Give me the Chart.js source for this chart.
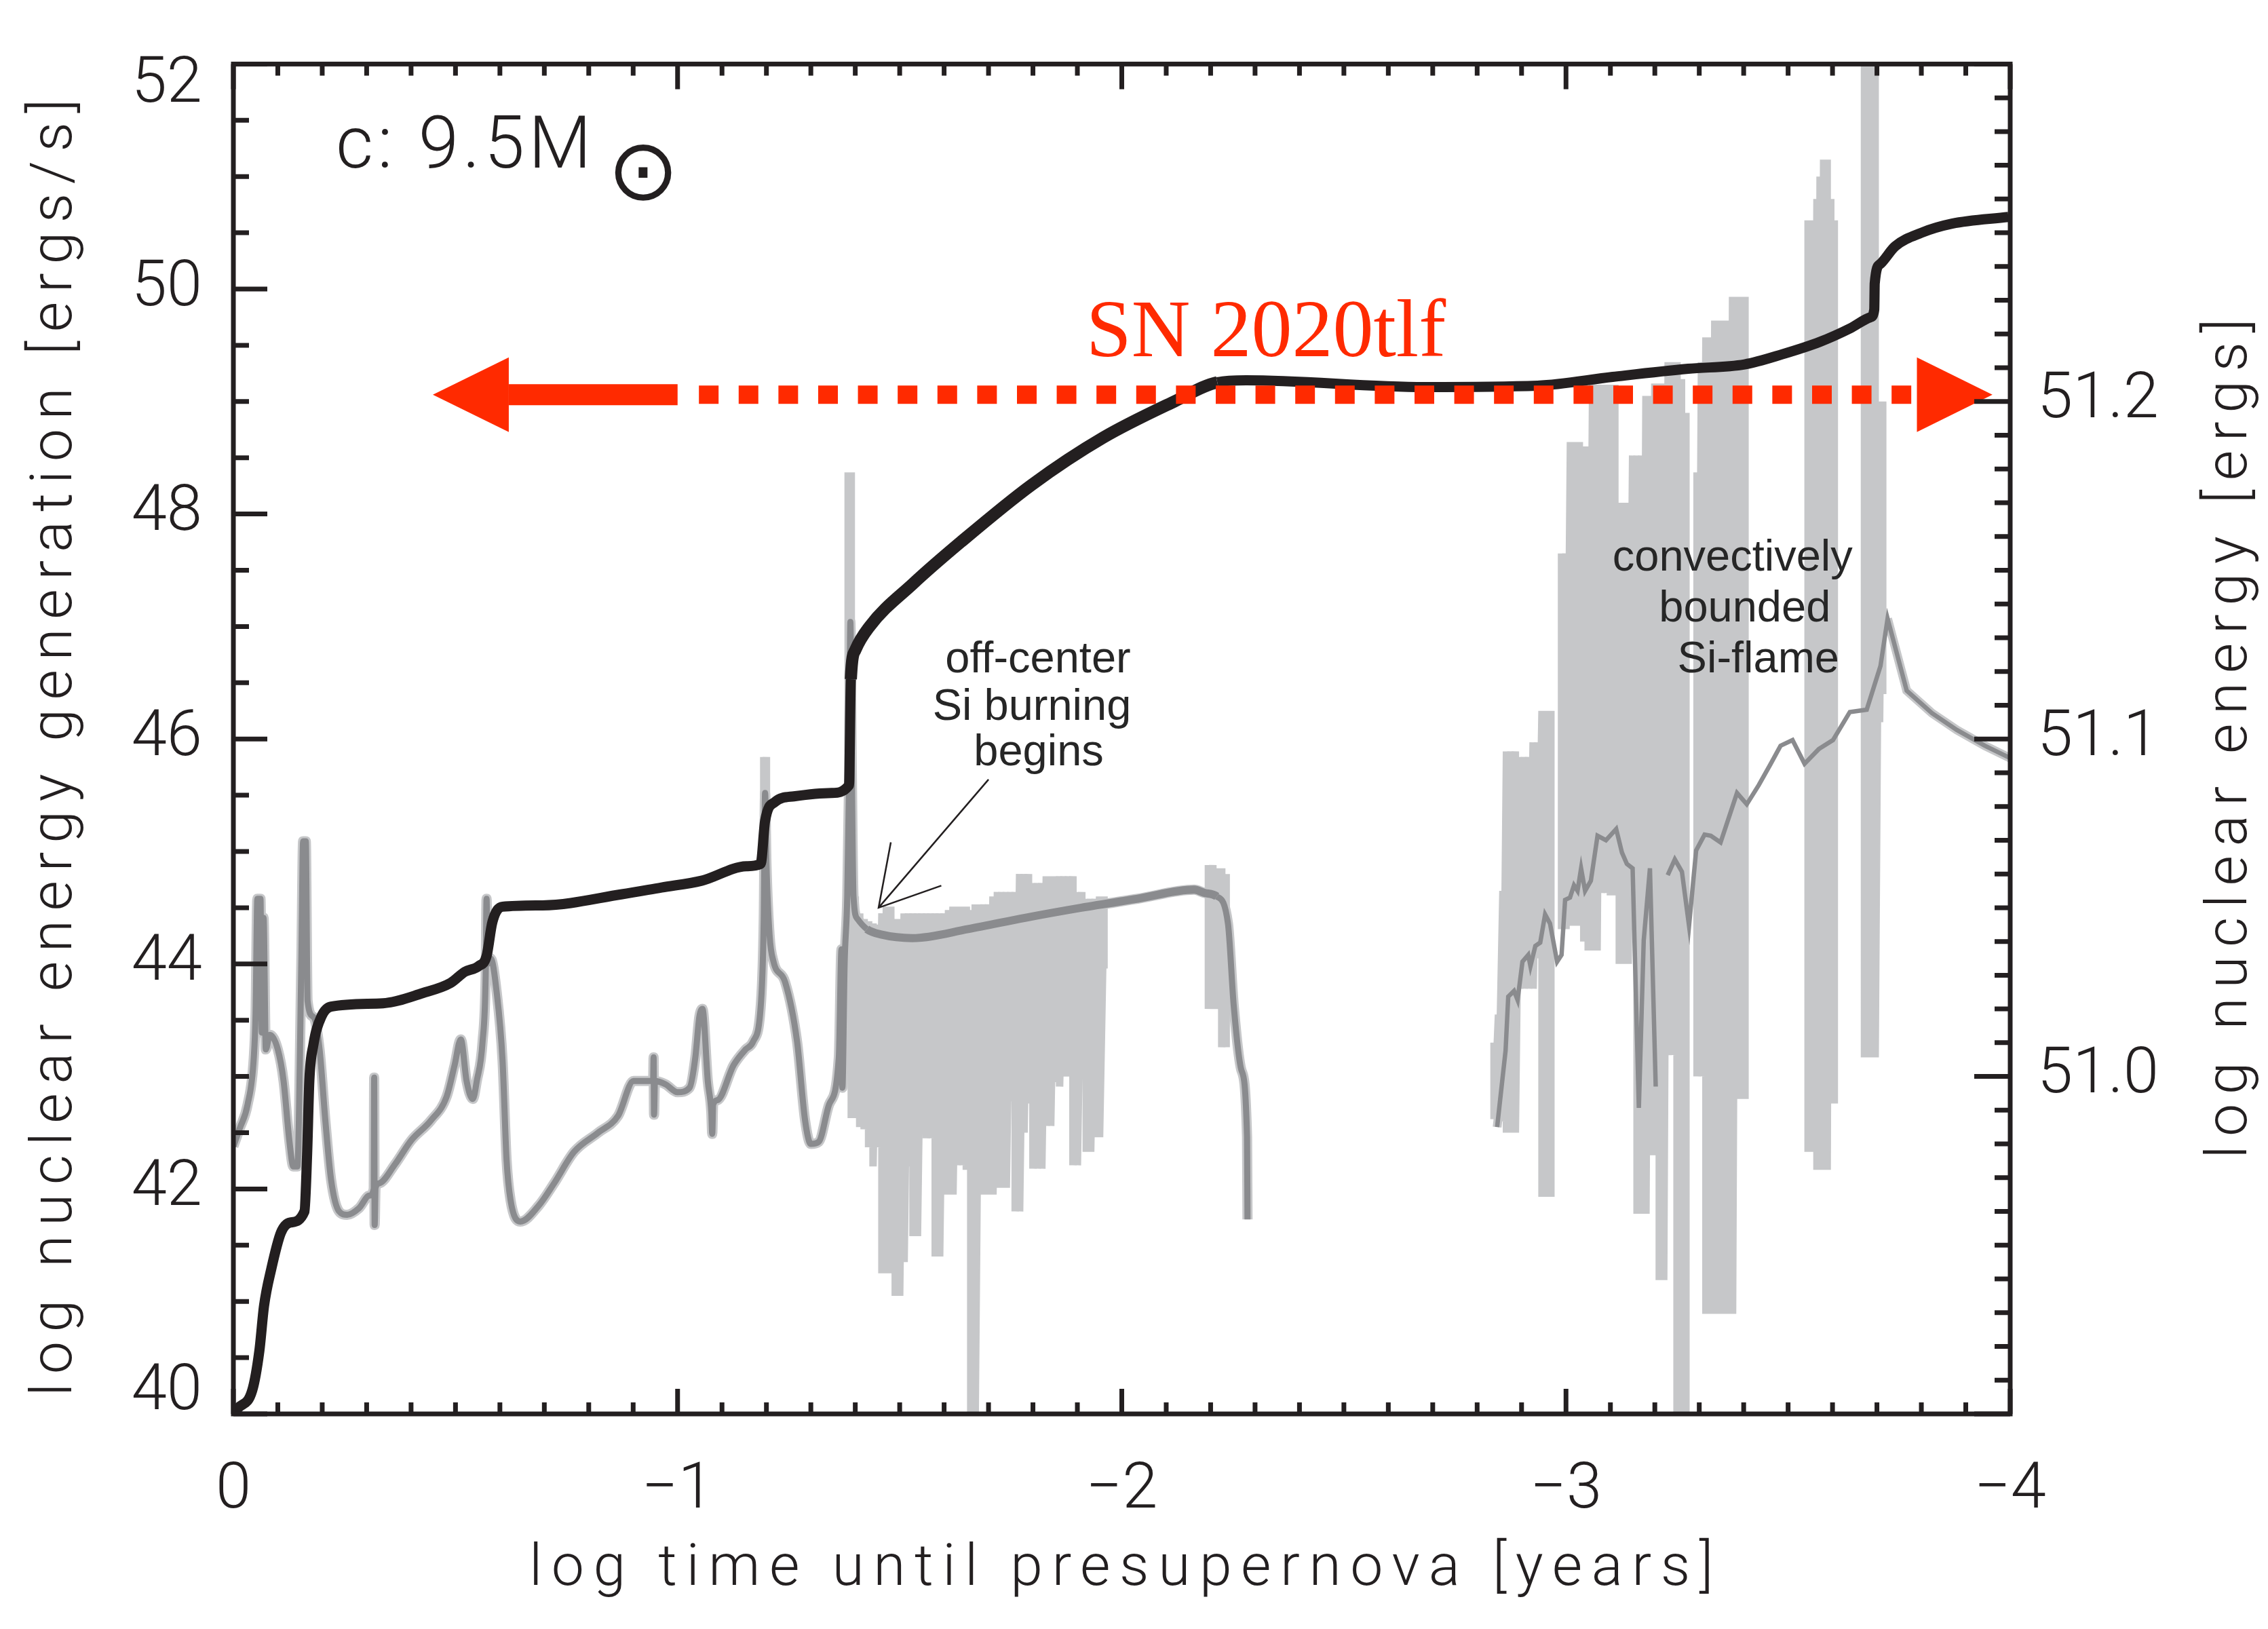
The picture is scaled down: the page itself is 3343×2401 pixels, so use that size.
<!DOCTYPE html>
<html>
<head>
<meta charset="utf-8">
<script src="https://cdn.jsdelivr.net/npm/chart.js@4.4.1/dist/chart.umd.min.js"></script>
<style>
  html, body { margin: 0; padding: 0; background: #ffffff; }
  #stage { width: 3343px; height: 2401px; }
</style>
</head>
<body>
<div id="stage"><canvas id="plot" width="3343" height="2401"></canvas></div>
<script>
// ---- data: 9.5 Msun model, log time until presupernova [yr] ----

// cumulative nuclear energy, log [ergs] (right axis)
const energyTime = [0, -0.0104, -0.0425, -0.0585, -0.069, -0.0854, -0.107, -0.128, -0.16, -0.166,
  -0.171, -0.18, -0.198, -0.22, -0.337, -0.426, -0.489, -0.521, -0.552, -0.57,
  -0.583, -0.606, -0.696, -0.875, -0.964, -1.054, -1.155, -1.187, -1.197, -1.219,
  -1.262, -1.347, -1.386, -1.39, -1.40, -1.432, -1.53, -1.637, -1.797, -1.958,
  -2.118, -2.215, -2.28, -2.682, -2.936, -3.105, -3.275, -3.402, -3.487, -3.572,
  -3.64, -3.686, -3.694, -3.695, -3.707, -3.741, -3.80, -3.869, -3.996];
const energyLog = [50.9, 50.9017, 50.907, 50.9187, 50.932, 50.943, 50.9537, 50.9567, 50.96, 50.977,
  50.9987, 51.0093, 51.0177, 51.0207, 51.0217, 51.0247, 51.0277, 51.031, 51.0327, 51.0357,
  51.0457, 51.0503, 51.0507, 51.054, 51.056, 51.058, 51.0623, 51.063, 51.0757, 51.0813,
  51.083, 51.084, 51.0863, 51.1177, 51.1263, 51.1333, 51.146, 51.1583, 51.1753, 51.1893,
  51.2, 51.2057, 51.2063, 51.2043, 51.2047, 51.2073, 51.2097, 51.211, 51.214, 51.2177,
  51.2217, 51.225, 51.2273, 51.235, 51.2407, 51.246, 51.25, 51.2527, 51.2547];

// smoothed nuclear energy generation rate, log [ergs/s] (left axis), core phases up to Si ignition
const genTime = [0, -0.0145, -0.032, -0.046, -0.05, -0.054, -0.061, -0.064, -0.068, -0.073,
  -0.082, -0.1, -0.113, -0.126, -0.135, -0.144, -0.153, -0.157, -0.163, -0.167,
  -0.18, -0.194, -0.207, -0.22, -0.238, -0.256, -0.283, -0.306, -0.316, -0.317,
  -0.318, -0.32, -0.328, -0.364, -0.4, -0.445, -0.48, -0.498, -0.512, -0.525,
  -0.539, -0.548, -0.561, -0.568, -0.57, -0.572, -0.579, -0.593, -0.606, -0.615,
  -0.624, -0.646, -0.687, -0.722, -0.767, -0.821, -0.866, -0.901, -0.929, -0.945,
  -0.946, -0.947, -0.949, -0.973, -1.0, -1.027, -1.04, -1.049, -1.056, -1.068,
  -1.076, -1.078, -1.08, -1.09, -1.126, -1.153, -1.17, -1.188, -1.194, -1.197,
  -1.2, -1.207, -1.216, -1.242, -1.269, -1.287, -1.3, -1.318, -1.341, -1.363,
  -1.369, -1.371, -1.376, -1.382, -1.386, -1.389, -1.392, -1.396, -1.405, -1.426,
  -1.46, -1.528, -1.654, -1.782, -1.909, -2.036, -2.163, -2.188, -2.214, -2.239,
  -2.252, -2.269, -2.282, -2.283];
const genLog = [42.38, 42.54, 42.75, 43.17, 43.56, 44.58, 44.58, 43.39, 44.41, 43.24,
  43.37, 43.24, 42.96, 42.43, 42.2, 42.2, 44.02, 45.09, 45.09, 43.67,
  43.53, 43.24, 42.61, 42.08, 41.8, 41.77, 41.83, 41.94, 42.0, 42.99,
  41.68, 42.01, 42.05, 42.22, 42.43, 42.61, 42.82, 43.1, 43.33, 42.96,
  42.8, 42.96, 43.31, 43.9, 44.58, 44.0, 44.05, 43.74, 43.14, 42.26,
  41.9, 41.71, 41.85, 42.05, 42.33, 42.5, 42.65, 42.96, 42.96, 42.96,
  43.17, 42.66, 42.96, 42.93, 42.86, 42.9, 43.17, 43.53, 43.6, 42.96,
  42.68, 42.49, 42.75, 42.79, 43.1, 43.24, 43.31, 43.67, 44.4, 45.52,
  44.9, 44.26, 44.02, 43.84, 43.31, 42.61, 42.4, 42.42, 42.75, 43.17,
  44.13, 42.9, 44.0, 44.6, 45.6, 47.04, 45.8, 44.6, 44.4, 44.31,
  44.26, 44.23, 44.31, 44.41, 44.5, 44.58, 44.66, 44.63, 44.6, 44.36,
  43.63, 43.06, 42.46, 41.73];

// smoothed rate during the Si-flame phase; null = no model output
const flameTime = [-2.845, -2.864, -2.87, -2.883, -2.891, -2.902, -2.915, -2.92, -2.931, -2.942,
  -2.953, -2.964, -2.98, -2.99, -2.998, -3.009, -3.018, -3.026, -3.034, -3.043,
  -3.056, -3.071, -3.09, -3.113, -3.126, -3.137, -3.15, -3.164, -3.175, -3.189,
  -3.202, -3.215,
  -3.229, -3.245, -3.261, -3.277, -3.293, -3.312, -3.326, -3.348, -3.385, -3.407,
  -3.434, -3.461, -3.483, -3.51, -3.537, -3.569, -3.601, -3.639, -3.677, -3.708,
  -3.724, -3.767, -3.824, -3.88, -3.943, -4.0];
const flameLog = [42.55, 43.23, 43.71, 43.76, 43.68, 44.02, 44.08, 43.98, 44.16, 44.19,
  44.44, 44.36, 44.02, 44.08, 44.57, 44.59, 44.7, 44.65, 44.85, 44.65,
  44.74, 45.14, 45.1, 45.2, 44.99, 44.89, 44.85, 42.72, 44.21, 44.85,
  42.91, null,
  44.79, 44.93, 44.82, 44.34, 45.01, 45.15, 45.14, 45.08, 45.52, 45.42,
  45.59, 45.78, 45.94, 45.99, 45.78, 45.91, 45.99, 46.24, 46.26, 46.65,
  47.07, 46.43, 46.23, 46.08, 45.94, 45.83];

// unsmoothed rate where it flickers: each entry spans rawHigh..rawLow at rawTime; null separates bursts
const rawTime = [-1.194, -1.200, null,
  -1.384, -1.391,
  -1.40, -1.41, -1.42, -1.43, -1.44, -1.45, -1.46, -1.47, -1.48, -1.49,
  -1.50, -1.51, -1.52, -1.53, -1.54, -1.55, -1.56, -1.57, -1.58, -1.59,
  -1.60, -1.61, -1.62, -1.63, -1.64, -1.65, -1.66, -1.67, -1.68, -1.69,
  -1.70, -1.71, -1.72, -1.73, -1.74, -1.75, -1.76, -1.77, -1.78, -1.79,
  -1.80, -1.81, -1.82, -1.83, -1.84, -1.85, -1.86, -1.87, -1.88, -1.89,
  -1.90, -1.91, -1.92, -1.93, -1.94, -1.95, -1.96, null,
  -2.195, -2.205, -2.215, -2.225, -2.235, null,
  -2.838, -2.848, -2.858, -2.866, -2.876, -2.886, -2.896, -2.906, -2.916, -2.926, -2.936, -2.946, -2.956, -2.966, null,
  -2.99, -3.0, -3.01, -3.02, -3.03, -3.04, -3.05, -3.06, -3.07, -3.08, -3.09, -3.10, -3.11, -3.12, -3.13,
  -3.14, -3.15, -3.16, -3.17, -3.18, -3.19, -3.20, -3.21, -3.22, -3.23, -3.24, -3.25, -3.26, -3.27, null,
  -3.295, -3.305, -3.315, -3.325, -3.335, -3.345, -3.355, -3.365, -3.375, -3.385, -3.395, -3.403, null,
  -3.545, -3.555, -3.565, -3.572, -3.58, -3.588, -3.596, -3.604, null,
  -3.672, -3.68, -3.688, -3.696, -3.706, -3.713];
const rawHigh = [45.84, 45.84, null,
  48.37, 48.37,
  44.6, 44.45, 44.4, 44.38, 44.36, 44.35, 44.45, 44.51, 44.51, 44.4,
  44.4, 44.45, 44.45, 44.45, 44.45, 44.45, 44.45, 44.45, 44.45, 44.45,
  44.45, 44.48, 44.51, 44.51, 44.51, 44.51, 44.48, 44.53, 44.53, 44.53,
  44.53, 44.6, 44.64, 44.64, 44.64, 44.64, 44.64, 44.8, 44.8, 44.8,
  44.72, 44.72, 44.72, 44.78, 44.78, 44.78, 44.78, 44.78, 44.78, 44.78,
  44.64, 44.64, 44.58, 44.58, 44.58, 44.6, 44.6, null,
  44.88, 44.88, 44.85, 44.85, 44.8, null,
  43.3, 43.55, 44.65, 45.89, 45.89, 45.89, 45.84, 45.84, 45.84, 45.97, 45.97, 46.25, 46.25, 46.25, null,
  47.65, 47.65, 48.64, 48.64, 48.64, 48.6, 48.6, 49.15, 49.15, 49.15, 49.15, 49.15, 49.15, 48.1, 48.1,
  48.1, 48.52, 48.52, 48.52, 49.05, 49.05, 49.16, 49.16, 49.16, 49.35, 49.35, 49.35, 49.2, 48.9, null,
  48.37, 49.35, 49.57, 49.57, 49.72, 49.72, 49.72, 49.72, 49.93, 49.93, 49.93, 49.93, null,
  50.61, 50.61, 50.8, 51.0, 51.15, 51.15, 50.8, 50.61, null,
  52.6, 52.6, 52.6, 52.6, 49.0, 49.0];
const rawLow = [44.6, 44.6, null,
  44.5, 42.63,
  42.63, 42.55, 42.53, 42.37, 42.2, 42.37, 41.25, 41.25, 41.25, 41.05,
  41.05, 41.35, 42.2, 41.58, 41.58, 42.6, 42.45, 42.45, 41.4, 41.4,
  41.95, 41.95, 41.95, 42.21, 42.21, 42.17, 40.0, 40.0, 42.17, 41.95,
  41.95, 41.95, 42.01, 42.01, 42.01, 42.78, 41.8, 41.8, 42.5, 42.76,
  42.18, 42.18, 42.18, 42.56, 42.56, 42.95, 42.91, 43.0, 43.0, 42.21,
  42.21, 43.6, 42.33, 42.33, 42.46, 42.46, 43.96, null,
  43.6, 43.6, 43.6, 43.26, 43.26, null,
  42.62, 42.7, 42.6, 42.5, 42.5, 42.5, 43.78, 43.78, 43.78, 43.78, 44.05, 41.93, 41.93, 41.93, null,
  44.31, 44.31, 44.34, 44.34, 44.34, 44.2, 44.12, 44.12, 44.12, 44.63, 44.63, 44.61, 44.61, 44.0, 44.0,
  44.0, 44.3, 41.78, 41.78, 41.78, 42.3, 42.3, 41.19, 41.19, 43.19, 43.19, 40.0, 40.0, 40.0, null,
  43.0, 43.0, 40.89, 40.89, 40.89, 40.89, 40.89, 40.89, 40.89, 42.8, 42.8, 42.8, null,
  42.33, 42.33, 42.17, 42.17, 42.17, 42.17, 42.76, 42.76, null,
  43.17, 43.17, 43.17, 43.17, 46.15, 46.4];

// SN 2020tlf precursor window (left-axis level, time spans)
const windowLevel = 49.06;
const windowSolid = [-0.62, -1.0];
const windowDotted = [-1.048, -3.79];
const windowTips = [-0.449, -3.96];

// pointer to the onset of off-center Si burning: [time, log rate]
const pointerTip = [-1.4525, 44.5];
const pointerTail = [-1.70, 45.64];

// axis tick labels
const xTickValues = [0, -1, -2, -3, -4];
const energyTickLabels = ['51.0', '51.1', '51.2'];

// ---- styling ----
const INK = '#231f20';
const RED = '#ff2a00';
const GRAY_DARK = '#8a8b8e';
const GRAY_LIGHT = '#c6c7c9';
const THIN = 'Roboto, Inter, "DejaVu Sans", sans-serif';
const SANS = '"Liberation Sans", Arimo, Helvetica, Arial, sans-serif';
const SERIF = '"Liberation Serif", "Times New Roman", serif';

function zip(xs, ys) {
  const out = [];
  for (let i = 0; i < xs.length; i++) out.push({ x: xs[i], y: ys[i] });
  return out;
}

function spans(ts, hi, lo) {
  const out = [];
  let last = 0;
  for (let i = 0; i < ts.length; i++) {
    if (ts[i] === null) { out.push({ x: last, y: null }); continue; }
    out.push({ x: ts[i], y: hi[i] });
    out.push({ x: ts[i], y: lo[i] });
    last = ts[i];
  }
  return out;
}

const energyPts = zip(energyTime, energyLog);
const genPts = zip(genTime, genLog);
const flamePts = zip(flameTime, flameLog);
const rawPts = spans(rawTime, rawHigh, rawLow);
const solidPts = [{ x: windowSolid[0], y: windowLevel }, { x: windowSolid[1], y: windowLevel }];
const dottedPts = [{ x: windowDotted[0], y: windowLevel }, { x: windowDotted[1], y: windowLevel }];

const decor = {
  id: 'decor',
  beforeDraw(chart) {
    // keep the end labels of the rate axis inside the frame
    const items = chart.scales.y.getLabelItems();
    for (const it of items) {
      if (it._nudged) continue;
      if (it.label === '52') it.options.translation[1] += 32;
      if (it.label === '40') it.options.translation[1] -= 31;
      it._nudged = true;
    }
  },
  afterDatasetsDraw(chart) {
    const { ctx, chartArea: a, scales: { x, y, y2 } } = chart;
    ctx.save();

    // arrowheads of the SN 2020tlf window
    const lvl = y.getPixelForValue(windowLevel);
    ctx.fillStyle = RED;
    const lt = x.getPixelForValue(windowTips[0]), lb = x.getPixelForValue(windowSolid[0]);
    ctx.beginPath(); ctx.moveTo(lt, lvl); ctx.lineTo(lb, lvl - 55); ctx.lineTo(lb, lvl + 55); ctx.closePath(); ctx.fill();
    const rt = x.getPixelForValue(windowTips[1]), rb = x.getPixelForValue(windowDotted[1]);
    ctx.beginPath(); ctx.moveTo(rt, lvl); ctx.lineTo(rb, lvl - 55); ctx.lineTo(rb, lvl + 55); ctx.closePath(); ctx.fill();

    // pointer arrow
    const tx = x.getPixelForValue(pointerTip[0]), ty = y.getPixelForValue(pointerTip[1]);
    const sx = x.getPixelForValue(pointerTail[0]), sy = y.getPixelForValue(pointerTail[1]);
    const ang = Math.atan2(sy - ty, sx - tx);
    ctx.strokeStyle = INK; ctx.lineWidth = 2.5; ctx.lineCap = 'butt';
    ctx.beginPath();
    ctx.moveTo(sx, sy); ctx.lineTo(tx, ty);
    ctx.moveTo(tx + 98 * Math.cos(ang - Math.PI / 6), ty + 98 * Math.sin(ang - Math.PI / 6));
    ctx.lineTo(tx, ty);
    ctx.lineTo(tx + 98 * Math.cos(ang + Math.PI / 6), ty + 98 * Math.sin(ang + Math.PI / 6));
    ctx.stroke();

    // inward tick marks on all four sides
    ctx.strokeStyle = INK; ctx.lineWidth = 7;
    ctx.beginPath();
    for (let i = 0; i <= 40; i++) {
      const px = x.getPixelForValue(-i / 10);
      const len = i % 10 === 0 ? 37 : 17;
      ctx.moveTo(px, a.bottom); ctx.lineTo(px, a.bottom - len);
      ctx.moveTo(px, a.top); ctx.lineTo(px, a.top + len);
    }
    for (let i = 0; i <= 24; i++) {
      const py = y.getPixelForValue(40 + i / 2);
      const len = i % 4 === 0 ? 50 : 23;
      ctx.moveTo(a.left, py); ctx.lineTo(a.left + len, py);
    }
    for (let i = 0; i <= 40; i++) {
      const py = y2.getPixelForValue(50.9 + i / 100);
      const len = i % 10 === 0 ? 53 : 23;
      ctx.moveTo(a.right, py); ctx.lineTo(a.right - len, py);
    }
    ctx.stroke();
    ctx.lineJoin = 'miter';
    ctx.strokeRect(a.left, a.top, a.right - a.left, a.bottom - a.top);
    ctx.restore();
  },
  afterDraw(chart) {
    const { ctx, chartArea: a, scales: { x, y } } = chart;
    ctx.save();
    ctx.fillStyle = INK;
    ctx.textBaseline = 'alphabetic';

    // axis titles
    ctx.font = `300 86px ${THIN}`;
    ctx.letterSpacing = '13.5px';
    ctx.textAlign = 'center';
    ctx.fillText('log time until presupernova [years]', (a.left + a.right) / 2 + 6, a.bottom + 252);
    ctx.save();
    ctx.translate(a.left - 239, (a.top + a.bottom) / 2 + 6);
    ctx.rotate(-Math.PI / 2);
    ctx.fillText('log nuclear energy generation [ergs/s]', 0, 0);
    ctx.restore();
    ctx.save();
    ctx.translate(a.right + 348, 1082);
    ctx.rotate(-Math.PI / 2);
    ctx.fillText('log nuclear energy [ergs]', 0, 0);
    ctx.restore();

    // model label
    ctx.textAlign = 'left';
    ctx.font = `300 107px ${THIN}`;
    ctx.letterSpacing = '6px';
    const mx = x.getPixelForValue(-0.2306), my = y.getPixelForValue(51.08);
    ctx.fillText('c: 9.5M', mx, my);
    ctx.letterSpacing = '0px';
    ctx.font = `126px "DejaVu Sans", sans-serif`;
    ctx.textAlign = 'center';
    ctx.textBaseline = 'middle';
    ctx.fillText('\u2299', mx + 453, my + 14);

    // SN label
    ctx.textBaseline = 'alphabetic';
    ctx.textAlign = 'left';
    ctx.fillStyle = RED;
    ctx.font = `120px ${SERIF}`;
    ctx.fillText('SN 2020tlf', x.getPixelForValue(-1.92), y.getPixelForValue(49.4));

    // annotations
    ctx.fillStyle = '#262626';
    ctx.font = `65px ${SANS}`;
    ctx.textAlign = 'center';
    const ax = x.getPixelForValue(-1.8114), ay = y.getPixelForValue(46.59);
    ctx.fillText('off-center', ax, ay);
    ctx.fillText('Si burning', ax - 9, ay + 70);
    ctx.fillText('begins', ax + 1, ay + 137);
    const bx = x.getPixelForValue(-3.375), by = y.getPixelForValue(47.5);
    ctx.fillText('convectively', bx, by);
    ctx.fillText('bounded', bx + 18, by + 75);
    ctx.fillText('Si-flame', bx + 38, by + 150);
    ctx.restore();
  }
};

const tickFont = { family: THIN, size: 94, weight: 300 };
const hideBetweenBursts = c => (c.p0.parsed.x < -2.86 && c.p0.parsed.x > -3.715) ? 'rgba(0,0,0,0)' : undefined;

new Chart(document.getElementById('plot'), {
  type: 'line',
  data: {
    datasets: [
      { label: 'SN 2020tlf window', data: dottedPts, yAxisID: 'y', borderColor: RED, borderWidth: 27,
        borderDash: [29, 29.6], clip: 0 },
      { label: 'SN 2020tlf window (earlier)', data: solidPts, yAxisID: 'y', borderColor: RED, borderWidth: 31, clip: 0 },
      { label: 'log nuclear energy', data: energyPts, yAxisID: 'y2', borderColor: INK, borderWidth: 15, clip: 0,
        cubicInterpolationMode: 'monotone',
        segment: { borderWidth: c => (c.p0.parsed.x <= -1.39 && c.p0.parsed.x > -2.2) ? 18 : undefined } },
      { label: 'log nuclear energy generation (smoothed)', data: genPts, yAxisID: 'y', borderColor: GRAY_DARK,
        borderWidth: 9, clip: 0, cubicInterpolationMode: 'monotone',
        segment: { borderWidth: c => (c.p0.parsed.x < -1.42 && c.p0.parsed.x > -2.2) ? 12 : undefined } },
      { label: 'log nuclear energy generation (Si flame, smoothed)', data: flamePts, yAxisID: 'y', borderColor: GRAY_DARK,
        borderWidth: 6.5, clip: 0 },
      { label: 'log nuclear energy generation', data: rawPts, yAxisID: 'y', borderColor: GRAY_LIGHT, borderWidth: 11, clip: 0 },
      { label: 'log nuclear energy generation (envelope)', data: genPts, yAxisID: 'y', borderColor: GRAY_LIGHT,
        borderWidth: 15, clip: 0, cubicInterpolationMode: 'monotone' },
      { label: 'log nuclear energy generation (Si flame envelope)', data: flamePts, yAxisID: 'y', borderColor: GRAY_LIGHT,
        borderWidth: 13, clip: 0, segment: { borderColor: hideBetweenBursts } }
    ]
  },
  options: {
    responsive: false,
    animation: false,
    events: [],
    layout: { padding: { top: 86, left: 0, right: 0, bottom: 0 } },
    elements: {
      line: { tension: 0, borderJoinStyle: 'miter', borderCapStyle: 'butt', fill: false },
      point: { radius: 0, hoverRadius: 0 }
    },
    plugins: { legend: { display: false }, tooltip: { enabled: false }, title: { display: false } },
    scales: {
      x: {
        type: 'linear', position: 'bottom', min: -4, max: 0, reverse: true,
        grid: { display: false }, border: { display: false },
        afterBuildTicks: s => { s.ticks = xTickValues.map(v => ({ value: v })); },
        ticks: {
          color: INK, font: tickFont, padding: 50, maxRotation: 0, autoSkip: false,
          callback: v => (v === 0 ? '0' : '\u2212' + Math.abs(v))
        },
        afterFit: s => { s.height = 317; }
      },
      y: {
        type: 'linear', position: 'left', min: 40, max: 52,
        grid: { display: false }, border: { display: false },
        ticks: { stepSize: 2, color: INK, font: tickFont, padding: 38 },
        afterFit: s => { s.width = 344; }
      },
      y2: {
        type: 'linear', position: 'right', min: 50.9, max: 51.3,
        grid: { display: false }, border: { display: false },
        afterBuildTicks: s => { s.ticks = energyTickLabels.map(t => ({ value: parseFloat(t) })); },
        ticks: {
          color: INK, font: tickFont, padding: 32,
          callback: v => v.toFixed(1)
        },
        afterFit: s => { s.width = 380; }
      }
    }
  },
  plugins: [decor]
});
</script>
</body>
</html>
